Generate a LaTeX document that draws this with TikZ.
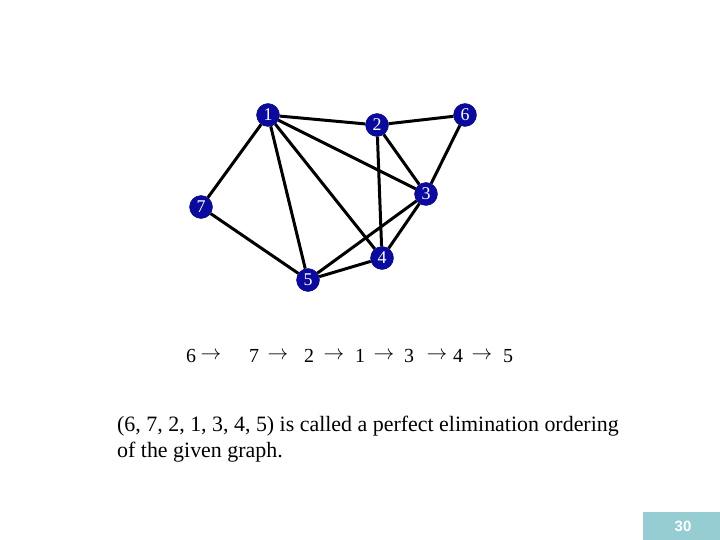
\documentclass[tikz,border=0pt]{standalone}
\usepackage{fontspec}
\setmainfont{Liberation Serif}
\newfontfamily\boxfont{Liberation Sans}
\definecolor{nodeblue}{HTML}{0A0A9E}
\definecolor{pageteal}{HTML}{96CDD3}
\begin{document}
\begin{tikzpicture}[x=1bp,y=-1bp,
  vtx/.style={circle,fill=nodeblue,draw=nodeblue!70!black,inner sep=0pt,minimum size=23bp,text=white,font=\fontsize{18}{18}\selectfont},
  edge/.style={line width=3bp,black},
  seq/.style={font=\fontsize{20}{20}\selectfont,inner sep=0pt,anchor=center},
  arr/.style={font=\fontsize{22}{22}\selectfont,inner sep=0pt,anchor=center}]
\useasboundingbox (0,0) rectangle (720,540);
\fill[white] (0,0) rectangle (720,540);
\node[vtx] (n1) at (268,115) {1};
\node[vtx] (n2) at (377,125) {2};
\node[vtx] (n6) at (465,115) {6};
\node[vtx] (n3) at (426,194) {3};
\node[vtx] (n7) at (201,207) {7};
\node[vtx] (n4) at (382,258) {4};
\node[vtx] (n5) at (308,280) {5};
\draw[edge] (n1) -- (n2);
\draw[edge] (n2) -- (n6);
\draw[edge] (n1) -- (n3);
\draw[edge] (n1) -- (n7);
\draw[edge] (n1) -- (n5);
\draw[edge] (n1) -- (n4);
\draw[edge] (n2) -- (n3);
\draw[edge] (n2) -- (n4);
\draw[edge] (n6) -- (n3);
\draw[edge] (n3) -- (n5);
\draw[edge] (n3) -- (n4);
\draw[edge] (n7) -- (n5);
\draw[edge] (n5) -- (n4);
% sequence
\node[seq] (s6) at (191,356) {6};
\node[arr] (a1) at (211,356) {$\rightarrow$};
\node[seq] (s7) at (254,356) {7};
\node[arr] (a2) at (278,356) {$\rightarrow$};
\node[seq] (s2) at (309,356) {2};
\node[arr] (a3) at (334,356) {$\rightarrow$};
\node[seq] (s1) at (360,356) {1};
\node[arr] (a4) at (384,356) {$\rightarrow$};
\node[seq] (s3) at (409,356) {3};
\node[arr] (a5) at (437,356) {$\rightarrow$};
\node[seq] (s4) at (458,356) {4};
\node[arr] (a6) at (482,356) {$\rightarrow$};
\node[seq] (s5) at (508,356) {5};
% paragraph
\node[anchor=base west,inner sep=0pt,align=left,font=\fontsize{22}{26}\selectfont] (para) at (117,457)
  {(6, 7, 2, 1, 3, 4, 5) is called a perfect elimination ordering\\of the given graph.};
% page number
\fill[pageteal] (643,512) rectangle (720,540);
\node[text=white,font=\boxfont\bfseries\fontsize{15}{15}\selectfont] (pg) at (683,526) {30};
\end{tikzpicture}
\end{document}
